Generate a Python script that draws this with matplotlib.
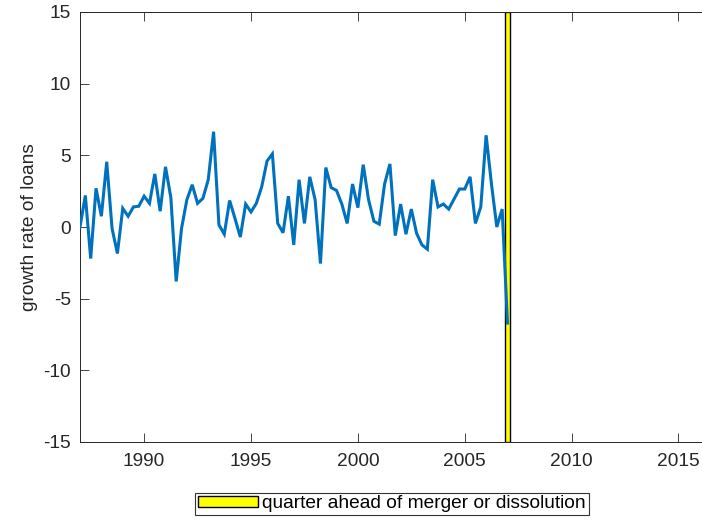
import numpy as np
import matplotlib
matplotlib.use("Agg")
import matplotlib.pyplot as plt
from matplotlib.patches import Patch

# ---- data ----
start_year = 1987.0
quarter_step = 0.25
loan_growth = [
    0.0, 2.2, -2.2, 2.7,        # 1987
    0.75, 4.55, -0.1, -1.85,    # 1988
    1.3, 0.75, 1.4, 1.45,       # 1989
    2.15, 1.65, 3.7, 1.1,       # 1990
    4.2, 2.05, -3.8, -0.1,      # 1991
    1.9, 2.95, 1.65, 2.0,       # 1992
    3.3, 6.65, 0.15, -0.5,      # 1993
    1.85, 0.6, -0.7, 1.6,       # 1994
    1.05, 1.65, 2.8, 4.6,       # 1995
    5.1, 0.25, -0.4, 2.15,      # 1996
    -1.25, 3.3, 0.25, 3.5,      # 1997
    1.9, -2.55, 4.15, 2.75,     # 1998
    2.55, 1.6, 0.25, 3.0,       # 1999
    1.35, 4.35, 1.9, 0.4,       # 2000
    0.2, 3.0, 4.4, -0.6,        # 2001
    1.6, -0.5, 1.25, -0.45,     # 2002
    -1.25, -1.55, 3.3, 1.4,     # 2003
    1.6, 1.25, 1.95, 2.65,      # 2004
    2.65, 3.5, 0.25, 1.4,       # 2005
    6.4, 3.0, 0.0, 1.25,        # 2006
    -6.7,                       # 2007
]
quarters = start_year + quarter_step * np.arange(len(loan_growth))

event_quarter = [2007.0]
event_label = "quarter ahead of merger or dissolution"

x_limits = [1987, 2016.1]
y_limits = [-15, 15]
x_ticks = [1990, 1995, 2000, 2005, 2010, 2015]
y_ticks = [-15, -10, -5, 0, 5, 10, 15]
y_label = "growth rate of loans"

# ---- styling ----
plt.rcParams['font.family'] = ['Liberation Sans', 'DejaVu Sans']
fs = 13.8
axis_color = '#262626'

fig = plt.figure(figsize=(7.02, 5.27), dpi=100)
ax = fig.add_axes([80/702, 1-442/527, 1-80/702, (442-12)/527])

# event bar spanning full y range
ax.bar(event_quarter, [y_limits[1]-y_limits[0]], bottom=y_limits[0],
       width=quarter_step, color='#ffff00', edgecolor='black', linewidth=1.0,
       zorder=2)

ax.plot(quarters, loan_growth, color='#0072BD', linewidth=2.2, zorder=3,
        solid_joinstyle='miter')

ax.set_xlim(x_limits)
ax.set_ylim(y_limits)
ax.set_xticks(x_ticks)
ax.set_yticks(y_ticks)
ax.set_xticklabels([str(t) for t in x_ticks], fontsize=fs, color=axis_color)
ax.set_yticklabels([str(t) for t in y_ticks], fontsize=fs, color=axis_color)
ax.tick_params(axis='x', direction='in', length=6.5, width=0.6, pad=8,
               top=True, color=axis_color)
ax.tick_params(axis='y', direction='in', length=6.5, width=0.6, pad=6.5,
               right=False, color=axis_color)
ax.set_ylabel(y_label, fontsize=fs, color=axis_color, labelpad=4)

for side in ['left', 'bottom', 'top']:
    ax.spines[side].set_color(axis_color)
    ax.spines[side].set_linewidth(0.7)
ax.spines['right'].set_visible(False)

handle = Patch(facecolor='#ffff00', edgecolor='black', linewidth=1.0)
leg = fig.legend([handle], [event_label], loc='center',
                 bbox_to_anchor=(392/702, 1-504/527), fontsize=fs,
                 frameon=True, fancybox=False, shadow=False, framealpha=1,
                 edgecolor='#333333', borderpad=0.15, handlelength=3.1,
                 handleheight=0.55, handletextpad=0.25, borderaxespad=0)
leg.get_frame().set_linewidth(0.8)

fig.savefig('out.png', dpi=100)
